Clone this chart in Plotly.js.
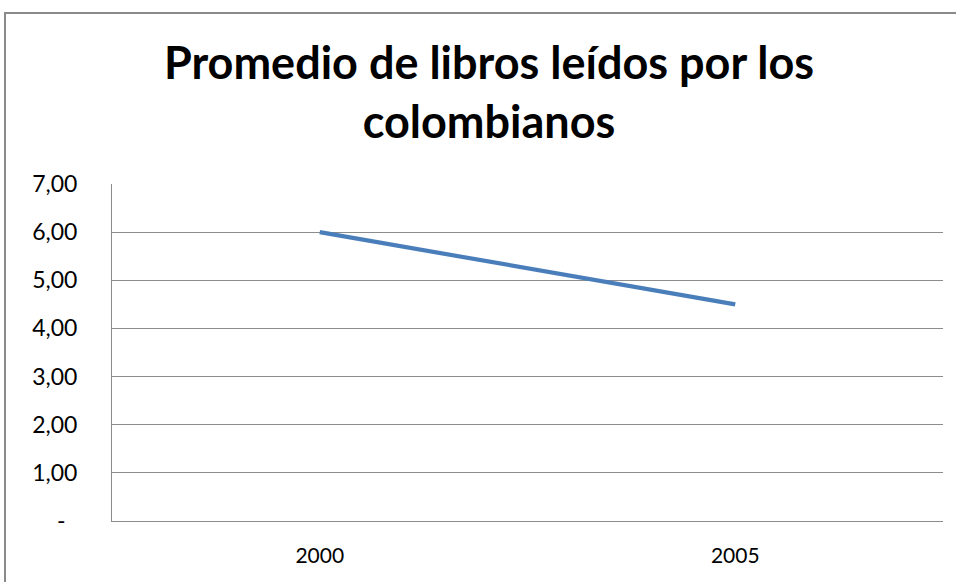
<!DOCTYPE html>
<html>
<head>
<meta charset="utf-8">
<script src="https://cdn.plot.ly/plotly-3.0.1.min.js"></script>
<style>
  html, body { margin: 0; padding: 0; background: #ffffff; }
  #chart { width: 956px; height: 582px; }
</style>
</head>
<body>
<div id="chart"></div>
<script>
// ---- data ----
const years = ["2000", "2005"];
const promedioLibros = [6.0, 4.5];
const yTickValues = [0, 1, 2, 3, 4, 5, 6, 7];
const yTickLabels = ["-\u00a0\u00a0", "1,00", "2,00", "3,00", "4,00", "5,00", "6,00", "7,00"];
const chartTitle = "Promedio de libros leídos por los<br>colombianos";

// ---- geometry helpers (pixel positions of the outer chart border) ----
const W = 956, H = 582;
const M = { l: 112, r: 13, t: 184, b: 61 };
const plotW = W - M.l - M.r, plotH = H - M.t - M.b;
const px = x => (x - M.l) / plotW;
const py = y => (H - M.b - y) / plotH;

const trace = {
  type: "scatter",
  mode: "lines",
  x: years,
  y: promedioLibros,
  line: { color: "#4a7ebb", width: 4.2 },
  hoverinfo: "x+y",
  showlegend: false
};

const layout = {
  width: W,
  height: H,
  margin: M,
  paper_bgcolor: "#ffffff",
  plot_bgcolor: "#ffffff",
  font: { family: "Lato, 'Open Sans', sans-serif", color: "#000000" },
  title: {
    text: chartTitle,
    font: { family: "Lato, 'Open Sans', sans-serif", size: 45, color: "#000000", weight: 700 },
    xref: "container",
    yref: "container",
    x: 489 / W,
    xanchor: "center",
    y: 1 - 79 / H,
    yanchor: "top"
  },
  xaxis: {
    type: "category",
    range: [-0.5, 1.5],
    showgrid: false,
    zeroline: false,
    showline: true,
    linecolor: "#8c8c8c",
    linewidth: 1,
    ticks: "",
    ticklabelstandoff: 16,
    tickfont: { size: 21, color: "#000000" },
    fixedrange: true
  },
  yaxis: {
    range: [0, 7],
    tickvals: yTickValues,
    ticktext: yTickLabels,
    showgrid: true,
    gridcolor: "#8c8c8c",
    gridwidth: 1,
    zeroline: false,
    showline: true,
    linecolor: "#8c8c8c",
    linewidth: 1,
    ticks: "",
    ticklabelstandoff: 29,
    tickfont: { size: 23, color: "#000000" },
    fixedrange: true
  },
  shapes: [
    {
      type: "rect",
      xref: "paper", yref: "paper",
      x0: px(5), x1: px(W + 10),
      y0: py(H + 10), y1: py(13),
      line: { color: "#8a8a8a", width: 2 },
      fillcolor: "rgba(0,0,0,0)",
      layer: "below"
    }
  ]
};

Plotly.newPlot("chart", [trace], layout, { displayModeBar: false, staticPlot: false });
</script>
</body>
</html>
